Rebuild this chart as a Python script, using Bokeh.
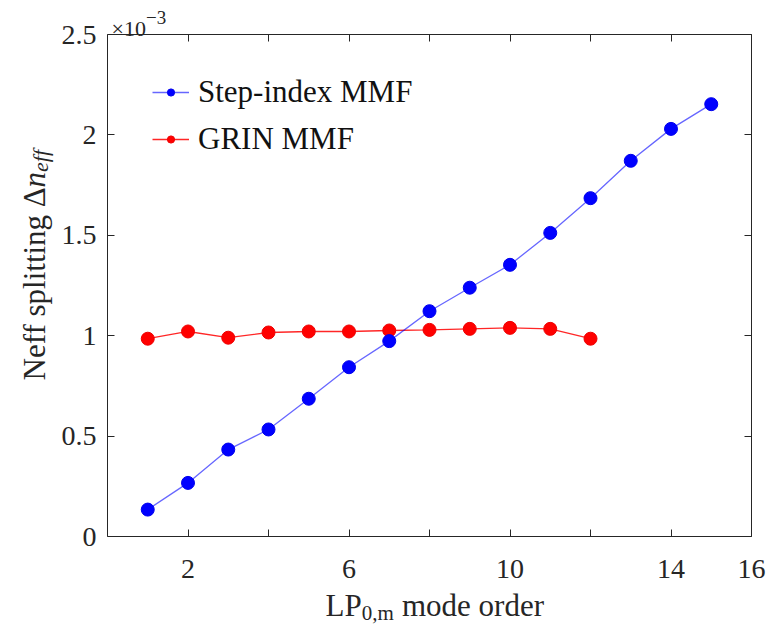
import math
from bokeh.plotting import figure
from bokeh.models import (Range1d, FixedTicker, LinearAxis, Label, Legend,
                          LegendItem, CustomJSTickFormatter)
from bokeh.embed import file_html
from bokeh.resources import INLINE

# ---- data (values in units of 1e-3) ----
step_mode_order = [1, 2, 3, 4, 5, 6, 7, 8, 9, 10, 11, 12, 13, 14, 15]
step_index_dneff = [0.134, 0.267, 0.433, 0.533, 0.686, 0.843, 0.973, 1.122,
                    1.239, 1.353, 1.512, 1.685, 1.871, 2.030, 2.153]
grin_mode_order = [1, 2, 3, 4, 5, 6, 7, 8, 9, 10, 11, 12]
grin_dneff = [0.985, 1.021, 0.990, 1.016, 1.021, 1.021, 1.026, 1.029,
              1.034, 1.039, 1.034, 0.985]
x_major_ticks = [2, 6, 10, 14, 16]
x_minor_ticks = [4, 8, 12]
y_ticks = [0, 0.5, 1, 1.5, 2, 2.5]
legend_labels = ["Step-index MMF", "GRIN MMF"]

FONT = "Liberation Serif"
AX = "#262626"

# ---- layout (page pixels; the page has no margin) ----
W, H = 775, 626
BOX_L, BOX_R, BOX_T, BOX_B = 107, 751, 34, 536   # axes box on the page
XMIN, XMAX, YMIN, YMAX = 0, 16, 0, 2.5
XS = (BOX_R - BOX_L) / (XMAX - XMIN)
YS = (BOX_B - BOX_T) / (YMAX - YMIN)

# frame covers the whole canvas; axes are drawn at fixed data locations
p = figure(frame_width=W, frame_height=H,
           x_range=Range1d(XMIN - BOX_L / XS, XMIN + (W - BOX_L) / XS),
           y_range=Range1d(YMIN - (H - BOX_B) / YS, YMIN + BOX_B / YS),
           output_backend="svg", toolbar_location=None,
           min_border=0, min_border_left=0, min_border_right=0,
           min_border_top=0, min_border_bottom=0, x_axis_location=None,
           y_axis_location=None)
p.xgrid.visible = False
p.ygrid.visible = False
p.outline_line_color = None
p.background_fill_color = "white"
p.border_fill_color = "white"


def make_axis(ticker, loc, bounds, show_labels=True, formatter=None):
    ax = LinearAxis(ticker=ticker, fixed_location=loc, bounds=bounds)
    ax.major_tick_in = 7
    ax.major_tick_out = 0
    ax.minor_tick_in = 7
    ax.minor_tick_out = 0
    ax.axis_line_color = AX
    ax.major_tick_line_color = AX
    ax.minor_tick_line_color = AX
    ax.major_label_text_font = FONT
    ax.major_label_text_color = AX
    ax.major_label_text_font_size = "28px"
    if not show_labels:
        ax.major_label_standoff = 0
        ax.formatter = CustomJSTickFormatter(code="return '';")
    elif formatter is not None:
        ax.formatter = formatter
    return ax


yfmt = CustomJSTickFormatter(code="return String(tick);")

bx = make_axis(FixedTicker(ticks=x_major_ticks, minor_ticks=x_minor_ticks),
               YMIN, (XMIN, XMAX))
bx.major_label_standoff = 23
p.add_layout(bx, "below")
tx = make_axis(FixedTicker(ticks=x_major_ticks, minor_ticks=x_minor_ticks),
               YMAX, (XMIN, XMAX), show_labels=False)
p.add_layout(tx, "above")
ly = make_axis(FixedTicker(ticks=y_ticks, minor_ticks=[]), XMIN, (YMIN, YMAX),
               formatter=yfmt)
ly.major_label_standoff = 11
p.add_layout(ly, "left")
ry = make_axis(FixedTicker(ticks=y_ticks, minor_ticks=[]), XMAX, (YMIN, YMAX),
               show_labels=False)
p.add_layout(ry, "right")

# ---- series ----
grin_line = p.line(grin_mode_order, grin_dneff, line_color="#ff0000",
                   line_width=1.3, line_alpha=0.85)
grin_pts = p.scatter(grin_mode_order, grin_dneff, size=13,
                     fill_color="#ff0000", line_color="#ee0000")
step_line = p.line(step_mode_order, step_index_dneff, line_color="#0000ff",
                   line_width=1.3, line_alpha=0.6)
step_pts = p.scatter(step_mode_order, step_index_dneff, size=13,
                     fill_color="#0000ff", line_color="#0000ee")

legend = Legend(items=[LegendItem(label=legend_labels[0], renderers=[step_line, step_pts]),
                       LegendItem(label=legend_labels[1], renderers=[grin_line, grin_pts])],
                location=(152, H - 157), glyph_width=37, glyph_height=18,
                label_height=36, spacing=11, label_standoff=9,
                padding=0, margin=0, border_line_color=None,
                background_fill_alpha=0, label_text_font=FONT,
                label_text_font_size="31px", label_text_color="#111111")
p.add_layout(legend)


def add_text(txt, px_x, px_y, size, italic=False, angle=0.0):
    p.add_layout(Label(x=(px_x - BOX_L) / XS + XMIN, y=(BOX_B - px_y) / YS + YMIN,
                       text=txt, text_font=FONT, text_font_size=f"{size}px",
                       text_font_style="italic" if italic else "normal",
                       angle=angle, text_align="left",
                       text_baseline="alphabetic", text_color=AX))


# y-axis label: "Neff splitting Δn_eff"
add_text("Neff splitting \u0394", 34, 380, 31, angle=math.pi / 2)
add_text("n", 34, 187, 31, italic=True, angle=math.pi / 2)
add_text("eff", 40, 171.5, 22, italic=True, angle=math.pi / 2)

# x-axis label: "LP_{0,m} mode order"
add_text("LP", 325, 605, 31)
add_text("0,m", 361.2, 612, 21)
add_text("mode order", 401.5, 605, 31)

# exponent label
add_text("\u00d710", 111, 28, 22)
add_text("\u22123", 145.5, 17, 19)

open("out.html", "w").write(file_html(p, INLINE))
